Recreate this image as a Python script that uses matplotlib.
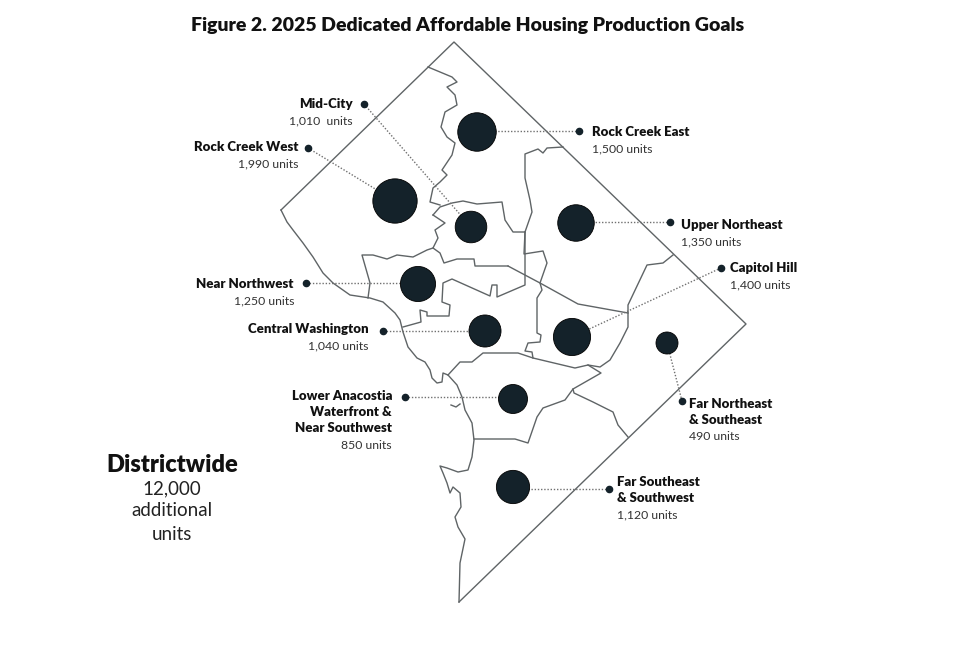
import matplotlib
matplotlib.use('Agg')
import matplotlib.pyplot as plt

plt.rcParams['font.family'] = ['Lato', 'DejaVu Sans']

TITLE = 'Figure 2. 2025 Dedicated Affordable Housing Production Goals'
DARK = '#14222a'
LINE = '#5f6466'

# planning areas: name, units, bubble centre, leader dot, leader end
area_names = ['Rock Creek East', 'Rock Creek West', 'Mid-City', 'Near Northwest', 'Upper Northeast',
              'Capitol Hill', 'Far Northeast', 'Central Washington', 'Lower Anacostia', 'Far Southeast']
area_units = [1500, 1990, 1010, 1250, 1350, 1400, 490, 1040, 850, 1120]
bubble_x = [477, 395, 471, 418, 576, 572, 667, 485, 513, 513]
bubble_y = [132, 201, 227, 284, 223, 337, 343, 331, 399, 487]
dot_x = [579, 308, 364, 306, 670, 721, 682, 383, 405, 609]
dot_y = [131, 148, 104, 283, 222, 268, 401, 331, 397, 489]
end_x = [477, 395, 471, 418, 576, 572, 667, 485, 513, 513]
end_y = [131, 201, 227, 283, 222, 337, 343, 331, 397, 489]

# boundary lines in picture coordinates
border = [(281, 210), (454, 42), (746, 324), (459, 602)]
river = [(281, 210), (287, 222), (293, 230), (303, 243), (313, 257), (323, 273), (333, 283), (350, 295),
         (370, 298), (383, 302), (395, 313), (400, 320), (403, 332), (408, 347), (417, 358), (425, 362),
         (430, 370), (432, 378), (437, 383), (442, 382), (443, 373), (448, 375), (457, 385), (462, 397),
         (465, 410), (472, 423), (474, 440), (472, 457), (468, 470), (458, 472), (447, 468), (440, 466),
         (443, 473), (447, 483), (450, 493), (453, 487), (460, 493), (461, 507), (455, 517), (458, 527),
         (465, 539), (460, 563), (459, 602)]
inlet = [(451, 405), (456, 407), (460, 404)]
rock_creek = [(428, 67), (440, 72), (452, 77), (457, 82), (447, 87), (455, 95), (457, 105), (445, 112),
              (441, 127), (447, 137), (455, 143), (452, 155), (442, 170), (447, 175), (440, 182),
              (433, 188), (430, 202), (440, 205)]
midcity_top = [(433, 215), (440, 207), (452, 203), (463, 201), (477, 204), (502, 202), (505, 220),
               (513, 232), (525, 232)]
midcity_left = [(433, 215), (445, 223), (435, 230), (438, 238), (433, 248), (440, 253), (444, 263),
                (457, 259), (474, 259), (475, 266), (508, 266)]
rcw_bottom = [(433, 248), (427, 250), (413, 257), (397, 255), (387, 259), (373, 255), (362, 255),
              (370, 283), (368, 298)]
diagonal = [(508, 266), (540, 283), (578, 304), (628, 313)]
upper_ne = [(563, 147), (547, 148), (543, 153), (538, 149), (525, 154), (525, 178), (530, 200), (532, 212),
            (525, 232), (524, 254), (543, 251), (547, 263), (540, 283), (542, 290), (537, 298), (537, 333),
            (541, 335), (540, 342), (528, 343), (525, 351), (532, 352), (533, 358)]
central_top = [(403, 327), (421, 322), (420, 310), (427, 312), (427, 316), (449, 316), (450, 305), (442, 302),
               (443, 283), (452, 279), (490, 296), (492, 285), (497, 285), (497, 297), (525, 285), (525, 232)]
central_bottom = [(448, 375), (460, 362), (472, 362), (483, 353), (518, 353), (533, 358), (575, 368),
                  (588, 365), (601, 373), (573, 389), (565, 400), (543, 408), (537, 417), (528, 443),
                  (515, 439), (474, 439)]
far_split = [(573, 389), (574, 393), (593, 402), (613, 412), (618, 425), (628, 437)]
capitol_right = [(673, 255), (663, 263), (647, 265), (628, 305), (628, 327), (620, 343), (610, 360),
                 (600, 367), (588, 365)]
boundaries = [border, river, inlet, rock_creek, midcity_top, midcity_left, rcw_bottom, diagonal, upper_ne,
              central_top, central_bottom, far_split, capitol_right]

# labels: lines, units text, x, first y, alignment
labels = [
    (['Mid-City'], '1,010  units', 353, 104, 'right'),
    (['Rock Creek West'], '1,990 units', 299, 147, 'right'),
    (['Near Northwest'], '1,250 units', 294, 284, 'right'),
    (['Central Washington'], '1,040 units', 369, 329, 'right'),
    (['Lower Anacostia', 'Waterfront &', 'Near Southwest'], '850 units', 392, 396, 'right'),
    (['Rock Creek East'], '1,500 units', 592, 132, 'left'),
    (['Upper Northeast'], '1,350 units', 681, 225, 'left'),
    (['Capitol Hill'], '1,400 units', 730, 268, 'left'),
    (['Far Northeast', '& Southeast'], '490 units', 689, 404, 'left'),
    (['Far Southeast', '& Southwest'], '1,120 units', 617, 482, 'left'),
]
district_lines = ['12,000', 'additional', 'units']
district_y = [489, 511, 534]

fig = plt.figure(figsize=(9.6, 6.55), dpi=100)
ax = fig.add_axes([0, 0, 1, 1])
ax.set_xlim(0, 960)
ax.set_ylim(655, 0)
ax.axis('off')

for b in boundaries:
    ax.plot(*zip(*b), color=LINE, lw=1.0, zorder=1)

# leader lines run under the bubble, so it hides the inner part
for i in range(len(area_names)):
    ax.plot([dot_x[i], end_x[i]], [dot_y[i], end_y[i]], color='#707070', lw=1.0, ls=(0, (1, 1.3)), zorder=2)

# bubble area follows the unit count
ax.scatter(bubble_x, bubble_y, s=[0.512 * u for u in area_units], color=DARK, edgecolors='black', linewidths=0.6, zorder=3)
ax.scatter(dot_x, dot_y, s=20, color=DARK, zorder=3)

ax.text(468, 25, TITLE, ha='center', va='center', fontsize=14, fontweight='heavy', color='#111111')

for lines, units, x, y, align in labels:
    for j, s in enumerate(lines):
        ax.text(x, y + j * 16.2, s, ha=align, va='center', fontsize=9.5, fontweight='heavy', color='#111111')
    ax.text(x, y + len(lines) * 16.5, units, ha=align, va='center', fontsize=8.8, color='#333333')

ax.text(172, 464.5, 'Districtwide', ha='center', va='center', fontsize=17, fontweight='heavy', color='#111111')
for s, y in zip(district_lines, district_y):
    ax.text(172, y, s, ha='center', va='center', fontsize=13.5, color='#222222')

fig.savefig('out.png', dpi=100)
